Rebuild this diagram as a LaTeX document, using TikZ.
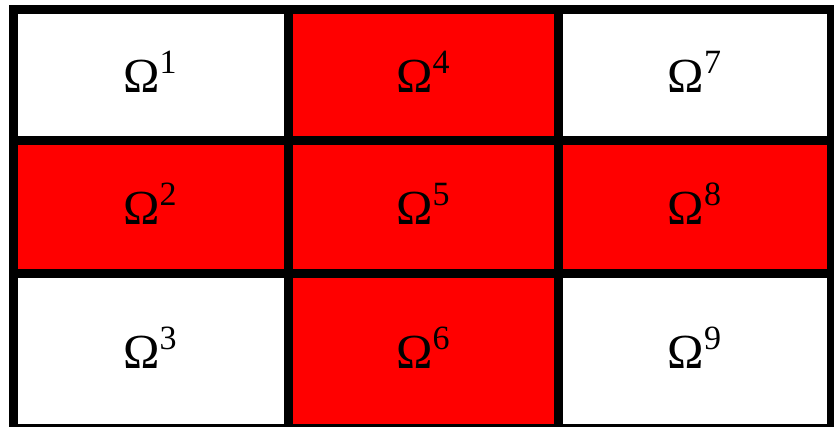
\documentclass[tikz,border=0pt]{standalone}
\usepackage{fontspec}
\setmainfont{Liberation Serif}
\definecolor{cellred}{HTML}{FF0000}
\newcommand{\omlabel}[1]{\fontsize{49}{49}\selectfont Ω\raisebox{19pt}{\fontsize{34}{34}\selectfont #1}}
\begin{document}
\begin{tikzpicture}[x=1pt,y=-1pt,
  gridline/.style={line width=9pt,black},
  lab/.style={anchor=base,inner sep=0pt}]
\useasboundingbox (0,0) rectangle (834,427);
\begin{scope}
\clip (0,0) rectangle (834,427);
% red cells
\fill[cellred] (288,10) rectangle (558,141);
\fill[cellred] (13.5,141) rectangle (831,274);
\fill[cellred] (288,274) rectangle (558,428);
% grid
\draw[gridline] (13.5,10) rectangle (831,428);
\draw[gridline] (288,10) -- (288,428);
\draw[gridline] (558,10) -- (558,428);
\draw[gridline] (13.5,141) -- (831,141);
\draw[gridline] (13.5,274) -- (831,274);
\end{scope}
% labels
\node[lab] (o1) at (150,93) {\omlabel{1}};
\node[lab] (o2) at (150,225) {\omlabel{2}};
\node[lab] (o3) at (150,368) {\omlabel{3}};
\node[lab] (o4) at (423,93) {\omlabel{4}};
\node[lab] (o5) at (423,225) {\omlabel{5}};
\node[lab] (o6) at (423,368) {\omlabel{6}};
\node[lab] (o7) at (694.5,93) {\omlabel{7}};
\node[lab] (o8) at (694.5,225) {\omlabel{8}};
\node[lab] (o9) at (694.5,368) {\omlabel{9}};
\end{tikzpicture}
\end{document}
